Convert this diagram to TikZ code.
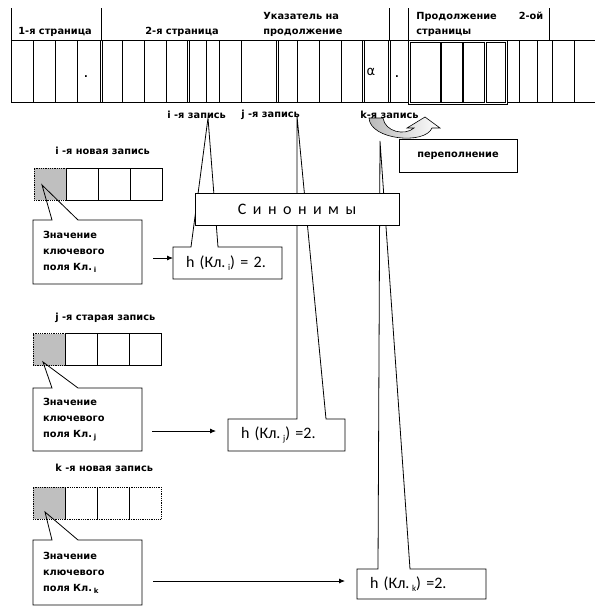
\documentclass[tikz,border=0pt]{standalone}
\usepackage{fontspec}
\newfontfamily\lblfont{DejaVu Sans}
\newfontfamily\calfont{Carlito}
\usetikzlibrary{positioning,calc,arrows.meta}
\newcommand{\lsub}[1]{\raisebox{-0.4ex}{\fontsize{7}{7}\selectfont #1}}
\newcommand{\hsub}[1]{\raisebox{-0.4ex}{\fontsize{9}{9}\selectfont #1}}
\newcommand{\sgap}{\hspace{6.5pt}}

\begin{document}
\begin{tikzpicture}[x=1pt,y=-1pt,line width=0.8pt,
	>={Latex[length=6pt,width=5pt]},
	lbl/.style={font=\lblfont\bfseries\fontsize{9.8}{15}\selectfont, inner sep=0pt, anchor=west, align=left},
	cell/.style={draw, minimum width=32pt, minimum height=32pt, inner sep=0pt, outer sep=0pt},
	keycell/.style={cell, fill=gray!50, densely dotted},
	dotcell/.style={cell, densely dotted},
	valbox/.style={font=\lblfont\bfseries\fontsize{9.8}{16}\selectfont, inner xsep=10pt, inner ysep=0pt, outer sep=0pt, align=left, text width=89pt},
	hbox/.style={font=\calfont\fontsize{16}{16}\selectfont, inner xsep=13pt, inner ysep=0pt, outer sep=0pt, minimum height=32pt, align=left}]
	\useasboundingbox (0,0) rectangle (595,613);
	\draw (11,8) -- (11,102);
	\draw (11,40) -- (595,40);
	\draw (11,102) -- (595,102);
	\foreach \x in {101,389,408,549} \draw (\x,8) -- (\x,40);
	\foreach \x in {33,55,77,122,144,166,206,219,241,297,319,341,519,537,552,574} \draw (\x,40) -- (\x,102);
	\foreach \x in {100,187,276,362,388} {\draw (\x,40) -- (\x,102); \draw (\x+2,40) -- (\x+2,102);}
	\draw[fill=white] (408,40) rectangle (507,104);
	\foreach \a/\b in {410/440,441.5/462,463.5/484,486/505} \draw (\a,42) rectangle (\b,102);
	\node[lbl, anchor=base] (dot1) at (86,77) {.};
	\node[lbl, anchor=base] (dot2) at (397,77) {.};
	\node[font=\lblfont\fontsize{13}{13}\selectfont, inner sep=0pt] (alpha) at (371,72) {α};
	\node[lbl] (pg1) at (18,32) {1-я страница};
	\node[lbl] (pg2) at (145,32) {2-я страница};
	\node[lbl] (ptr) at (263,24.5) {Указатель на\\продолжение};
	\node[lbl] (cont) at (416,24.5) {Продолжение\hspace{22pt}2-ой\\страницы};
	\draw[line width=0.6pt, left color=gray!55, right color=white] (369,118) .. controls (370,140) and (425,145) .. (432,128) -- (440,128) -- (425,117) -- (407,128) -- (414,128) .. controls (405,136) and (385,132) .. (383,118) -- cycle;
	\node[lbl] (reci) at (167,115) {i -я запись};
	\node[lbl] (recj) at (241,115) {j -я запись};
	\node[lbl] (reck) at (360,115) {k-я запись};
	\node[draw, fill=white, minimum width=118pt, minimum height=33pt, inner sep=0pt, font=\lblfont\bfseries\fontsize{9.8}{15}\selectfont] (over) at (458,155.5) {переполнение};
	\node[lbl] (newi) at (55,151) {i -я новая запись};
	\node[keycell] (ri1) at (50,184) {};
	\foreach \n [count=\p from 1] in {2,3,4} \node[cell, right=0pt of ri\p] (ri\n) {};
	\node[lbl] (oldj) at (55,318) {j -я старая запись};
	\node[keycell] (rj1) at (49,349.5) {};
	\foreach \n [count=\p from 1] in {2,3,4} \node[cell, right=0pt of rj\p] (rj\n) {};
	\node[lbl] (newk) at (55,468) {k -я новая запись};
	\node[keycell] (rk1) at (49,503) {};
	\foreach \n [count=\p from 1] in {2,3,4} \node[dotcell, right=0pt of rk\p] (rk\n) {};
	\node[valbox, minimum height=64pt] (vali) at (87.5,252) {Значение\\ключевого\\поля Кл.\,\lsub{i}};
	\node[valbox, minimum height=63pt] (valj) at (87.5,419.5) {Значение\\ключевого\\поля Кл.\,\lsub{j}};
	\node[valbox, minimum height=65pt] (valk) at (87.5,572.5) {Значение\\ключевого\\поля Кл.\,\lsub{k}};
	\coordinate (pvi) at (42,185);
	\coordinate (pvj) at (43,362);
	\coordinate (pvk) at (45,512);
	\foreach \v in {i,j,k}
		\draw (val\v.north west) -- ++(19,0) -- (pv\v) -- ($(val\v.north west)+(45,0)$) -- (val\v.north east) -- (val\v.south east) -- (val\v.south west) -- cycle;
	\node[hbox, text width=83pt] (hi) at (227.5,263) {h (Кл.\,\hsub{i}) = 2.};
	\node[hbox, text width=91pt] (hj) at (286.5,435) {h (Кл.\,\hsub{j}) =2.};
	\node[hbox, text width=103pt, minimum height=30pt] (hk) at (421.5,584) {h (Кл.\,\hsub{k}) =2.};
	\coordinate (pi) at (208,118);
	\coordinate (pj) at (297,116);
	\coordinate (pk) at (380,141);
	\draw (hi.north west) -- ++(18,0) -- (pi) -- ($(hi.north west)+(45,0)$) -- (hi.north east) -- (hi.south east) -- (hi.south west) -- cycle;
	\draw (hj.north west) -- ++(69,0) -- (pj) -- ($(hj.north west)+(98,0)$) -- (hj.north east) -- (hj.south east) -- (hj.south west) -- cycle;
	\draw (hk.north west) -- ++(21,0) -- (pk) -- ($(hk.north west)+(53,0)$) -- (hk.north east) -- (hk.south east) -- (hk.south west) -- cycle;
	\node[draw, fill=white, minimum width=204pt, minimum height=32pt, inner sep=0pt, font=\calfont\fontsize{16}{16}\selectfont] (syn) at (297,209) {С\sgap и\sgap н\sgap о\sgap н\sgap и\sgap м\sgap ы};
	\draw[->] ($(vali.east)+(11,6)$) coordinate (ai) -- (ai -| hi.west);
	\draw[->, shorten >=12pt] ($(valj.east)+(10,11.5)$) coordinate (aj) -- (aj -| hj.west);
	\draw[->, shorten >=12pt] ($(valk.east)+(11,8.5)$) coordinate (ak) -- (ak -| hk.west);
\end{tikzpicture}
\end{document}
